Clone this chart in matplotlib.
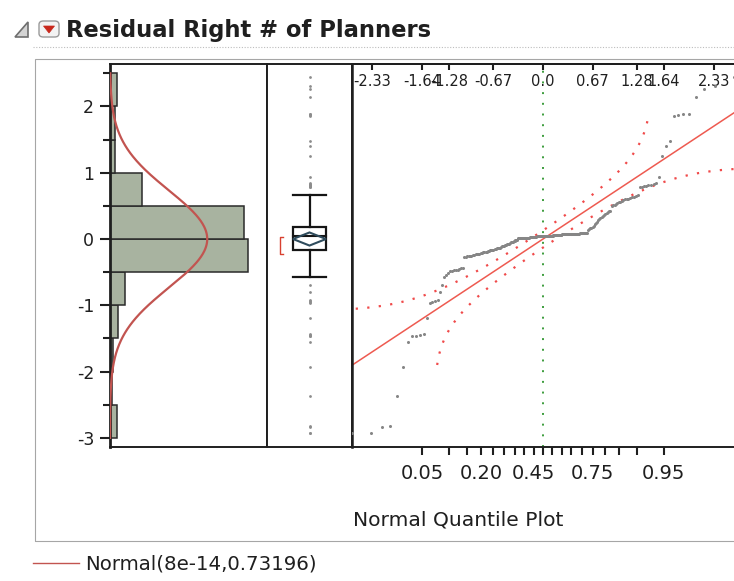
import math
import numpy as np
import matplotlib
matplotlib.use("Agg")
import matplotlib.pyplot as plt
from matplotlib.patches import Rectangle, Polygon, FancyBboxPatch
from matplotlib.lines import Line2D
import matplotlib.transforms as mtransforms

plt.rcParams["font.family"] = ["DejaVu Sans"]

# ---------------- data ----------------
title = "Residual Right # of Planners"
fit_mean = 8e-14
fit_sd = 0.73196
legend_label = "Normal(8e-14,0.73196)"

bin_edges = [-3.0, -2.5, -2.0, -1.5, -1.0, -0.5, 0.0, 0.5, 1.0, 1.5, 2.0, 2.5]
bin_counts = [4, 1, 2, 5, 9, 81, 79, 19, 3, 3, 4]

# sorted residuals (quantile plot + outlier box plot)
residuals = [
    -2.92, -2.92, -2.84, -2.82, -2.37, -1.93,
    -1.55, -1.47, -1.46, -1.45, -1.43, -1.19,
    -0.96, -0.95, -0.94, -0.92, -0.80, -0.69, -0.57, -0.55, -0.52,
    -0.49, -0.48, -0.47, -0.47, -0.46, -0.45, -0.44, -0.43,
    -0.27, -0.27, -0.26, -0.26, -0.25, -0.25, -0.24, -0.24, -0.23, -0.23,
    -0.22, -0.22, -0.21, -0.21, -0.20, -0.20, -0.19, -0.19, -0.18, -0.18,
    -0.17, -0.17, -0.16, -0.16, -0.15, -0.15, -0.14, -0.14, -0.13, -0.13,
    -0.12, -0.11, -0.11, -0.10, -0.09, -0.09, -0.08, -0.07, -0.07, -0.06,
    -0.05, -0.05, -0.04, -0.03, -0.03, -0.02, -0.01, -0.01,
    0.01, 0.01, 0.01, 0.01, 0.01, 0.01,
    0.02, 0.02, 0.02, 0.02, 0.02, 0.02, 0.02,
    0.03, 0.03, 0.03, 0.03, 0.03, 0.03, 0.03, 0.03,
    0.04, 0.04, 0.04, 0.04, 0.04, 0.04, 0.04, 0.04, 0.04,
    0.05, 0.05, 0.05, 0.05, 0.05, 0.05, 0.05, 0.05, 0.05, 0.05,
    0.06, 0.06, 0.06, 0.06, 0.06, 0.06, 0.06, 0.06, 0.06, 0.06,
    0.07, 0.07, 0.07, 0.07, 0.07, 0.07, 0.07, 0.07, 0.07, 0.07,
    0.08, 0.08, 0.08, 0.08, 0.08, 0.08, 0.08, 0.08, 0.08,
    0.09, 0.09, 0.09, 0.09, 0.09, 0.09, 0.09, 0.09,
    0.13, 0.15, 0.16, 0.17, 0.18, 0.20, 0.22, 0.24, 0.26, 0.28,
    0.30, 0.32, 0.33, 0.35, 0.36, 0.38, 0.39, 0.41, 0.42, 0.43,
    0.50, 0.52, 0.52, 0.53, 0.55, 0.56, 0.56, 0.58, 0.59, 0.60,
    0.61, 0.61, 0.62, 0.63, 0.64, 0.65, 0.66,
    0.78, 0.79, 0.80, 0.80, 0.81, 0.82, 0.83, 0.84,
    0.94, 1.25, 1.40, 1.48, 1.86, 1.87, 1.88, 1.89, 2.14, 2.26, 2.31, 2.44,
]

y_ticks = [-3, -2, -1, 0, 1, 2]
y_tick_labels = ["-3", "-2", "-1", "0", "1", "2"]
y_minor_ticks = [-2.5, -1.5, -0.5, 0.5, 1.5, 2.5]

quantile_probs = [0.01, 0.05, 0.10, 0.25, 0.50, 0.75, 0.90, 0.95, 0.99]
quantile_labels = ["-2.33", "-1.64", "-1.28", "-0.67", "0.0", "0.67", "1.28", "1.64", "2.33"]

prob_ticks = [0.05, 0.10, 0.15, 0.20, 0.25, 0.30, 0.35, 0.40, 0.45, 0.50,
              0.55, 0.60, 0.65, 0.70, 0.75, 0.80, 0.85, 0.90, 0.95]
prob_tick_labels = ["0.05", "", "", "0.20", "", "", "", "", "0.45", "",
                    "", "", "", "", "0.75", "", "", "", "0.95"]

shortest_half = (-0.23, 0.03)
band_d = 0.07  # half-width of the confidence band in probability units

# ---------------- helpers ----------------
_erf = np.vectorize(math.erf)


def norm_cdf(x):
    x = np.asarray(x, dtype=float)
    return 0.5 * (1.0 + _erf(x / math.sqrt(2.0)))


def norm_ppf(p):
    p = np.asarray(p, dtype=float)
    lo = np.full(p.shape, -12.0)
    hi = np.full(p.shape, 12.0)
    for _ in range(70):
        mid = 0.5 * (lo + hi)
        below = norm_cdf(mid) < p
        lo = np.where(below, mid, lo)
        hi = np.where(below, hi, mid)
    return 0.5 * (lo + hi)


def norm_pdf(x, mu, sd):
    return np.exp(-0.5 * ((x - mu) / sd) ** 2) / (sd * math.sqrt(2 * math.pi))


W, H = 734, 581


def fx(px):
    return px / W


def fy(py):
    return 1.0 - py / H


ink = "#1f1f1f"
curve_red = "#c25450"
line_red = "#ee5a50"
ylim = (-3.13, 2.64)
top_px, bot_px = 64, 446.5

fig = plt.figure(figsize=(W / 100, H / 100), dpi=100)
fig.patch.set_facecolor("white")

# outer report frame and header
fig.add_artist(Rectangle((fx(35), fy(541)), (W + 10 - 35) / W, (541 - 59) / H,
                         transform=fig.transFigure, fill=False, ec="#a6a6a6", lw=0.8))
fig.add_artist(Line2D([fx(33), 1.0], [fy(47), fy(47)], transform=fig.transFigure,
                      color="#bdbdbd", lw=0.8, ls=(0, (1, 1.5))))
fig.add_artist(Polygon([(fx(15), fy(37)), (fx(28), fy(37)), (fx(28), fy(22))],
                       closed=True, transform=fig.transFigure,
                       fc="#d4d4d4", ec="#6f6f6f", lw=1.2))
fig.add_artist(FancyBboxPatch((fx(39), fy(37)), (59 - 39) / W, (37 - 21) / H,
                              boxstyle="round,pad=0,rounding_size=0.006",
                              transform=fig.transFigure, fc="#f3f3f3", ec="#9a9a9a", lw=1.0))
fig.add_artist(Polygon([(fx(43.5), fy(26)), (fx(54.5), fy(26)), (fx(49), fy(33))],
                       closed=True, transform=fig.transFigure, fc="#c8281c", ec="#c8281c", lw=0.5))
fig.text(fx(66), fy(37), title, fontsize=16.3, fontweight="bold", color=ink,
         ha="left", va="baseline")

# ---------------- histogram ----------------
ax_h = fig.add_axes([fx(110), fy(bot_px), (267 - 110) / W, (bot_px - top_px) / H])
edges = np.array(bin_edges)
counts = np.array(bin_counts)
widths = np.diff(edges)
ax_h.barh(edges[:-1], counts, height=widths, left=0, align="edge",
          color="#a8b3a0", edgecolor="#2a2a2a", linewidth=1.1, zorder=2)
n_total = counts.sum()
yy = np.linspace(edges[0], edges[-1], 500)
ax_h.plot(n_total * widths[0] * norm_pdf(yy, fit_mean, fit_sd), yy,
          color=curve_red, lw=1.6, zorder=3)
ax_h.set_xlim(0, 92.4)
ax_h.set_ylim(*ylim)
ax_h.set_xticks([])
ax_h.set_yticks(y_ticks)
ax_h.set_yticklabels(y_tick_labels)
ax_h.set_yticks(y_minor_ticks, minor=True)
ax_h.tick_params(axis="y", which="major", direction="out", length=7.5, width=1.5,
                 pad=4, labelsize=12.5, colors=ink)
ax_h.tick_params(axis="y", which="minor", direction="out", length=5, width=1.5, colors=ink)
for name, sp in ax_h.spines.items():
    sp.set_color(ink)
    sp.set_linewidth(2.0 if name == "left" else 1.4)

# ---------------- outlier box plot ----------------
ax_b = fig.add_axes([fx(267), fy(bot_px), (352 - 267) / W, (bot_px - top_px) / H])
r = np.sort(np.array(residuals))
n = len(r)
q1, med, q3 = np.percentile(r, [25, 50, 75], method="weibull")
iqr = q3 - q1
w_lo = r[r >= q1 - 1.5 * iqr].min()
w_hi = r[r <= q3 + 1.5 * iqr].max()
outliers = r[(r < w_lo) | (r > w_hi)]
bx0, bx1, bxc = 0.306, 0.694, 0.5
ax_b.add_patch(Rectangle((bx0, q1), bx1 - bx0, q3 - q1, fill=False, ec="#151515", lw=1.6, zorder=3))
ax_b.plot([bx0, bx1], [med, med], color="#151515", lw=1.5, zorder=3)
ax_b.plot([bxc, bxc], [q3, w_hi], color="#151515", lw=1.6)
ax_b.plot([bxc, bxc], [w_lo, q1], color="#151515", lw=1.6)
ax_b.plot([bx0, bx1], [w_hi, w_hi], color="#151515", lw=1.6)
ax_b.plot([bx0, bx1], [w_lo, w_lo], color="#151515", lw=1.6)
half = 1.96 * fit_sd / math.sqrt(n)
ax_b.add_patch(Polygon([(bx0, fit_mean), (bxc, fit_mean + half), (bx1, fit_mean),
                        (bxc, fit_mean - half)], closed=True, fill=False,
                       ec="#2e4b5c", lw=1.5, zorder=4))
sh_lo, sh_hi = shortest_half
ax_b.plot([0.19, 0.153, 0.153, 0.19], [sh_hi, sh_hi, sh_lo, sh_lo],
          color="#d8402f", lw=1.0)
ax_b.plot(np.full(len(outliers), bxc), outliers, "o", ms=2.0, color="#8c8c8c",
          mec="none")
ax_b.set_xlim(0, 1)
ax_b.set_ylim(*ylim)
ax_b.set_xticks([])
ax_b.set_yticks([])
for sp in ax_b.spines.values():
    sp.set_color(ink)
    sp.set_linewidth(1.4)

# ---------------- normal quantile plot ----------------
ax_q = fig.add_axes([fx(352), fy(bot_px), (W - 352) / W, (bot_px - top_px) / H])
ranks = np.arange(1, n + 1)
z = norm_ppf(ranks / (n + 1.0))
zmax = float(z[-1]) + 0.005
ax_q.set_xlim(-zmax, zmax)
ax_q.set_ylim(*ylim)

ax_q.axvline(0, color="#3c9c3c", lw=1.4, ls=(0, (1, 4.5)), zorder=1)
ax_q.axline((0, fit_mean), slope=fit_sd, color=line_red, lw=1.1, zorder=2)

pp = np.linspace(1.0 / (n + 1), n / (n + 1.0), 800)
yb = fit_mean + fit_sd * norm_ppf(pp)
m_a = pp - band_d > 1e-5
m_b = pp + band_d < 1 - 1e-5
band_style = dict(color="#f04a4a", lw=1.6, ls=(0, (1, 4.2)), zorder=2)
ax_q.plot(norm_ppf(pp[m_a] - band_d), yb[m_a], **band_style)
ax_q.plot(norm_ppf(pp[m_b] + band_d), yb[m_b], **band_style)

ax_q.plot(z, r, "o", ms=2.2, color="#868686", mec="none", zorder=3)

ax_q.set_xticks(norm_ppf(prob_ticks))
ax_q.set_xticklabels(prob_tick_labels)
ax_q.tick_params(axis="x", which="major", direction="out", length=5.5, width=1.5,
                 pad=7, labelsize=14, colors=ink)
ax_q.set_yticks([])

top_pos = norm_ppf(quantile_probs)
sec = ax_q.secondary_xaxis("top")
sec.set_xticks(top_pos)
sec.set_xticklabels([])
sec.tick_params(direction="in", length=4, width=1.5, colors=ink)
sec.spines["top"].set_linewidth(1.4)
sec.spines["top"].set_color(ink)
blend = mtransforms.blended_transform_factory(ax_q.transData, ax_q.transAxes)
for pos, lab in zip(top_pos, quantile_labels):
    ax_q.text(pos, 0.955, lab, transform=blend, ha="center", va="center",
              fontsize=10.5, color=ink, zorder=0)

ax_q.spines["right"].set_visible(False)
for name in ("left", "top", "bottom"):
    ax_q.spines[name].set_color(ink)
    ax_q.spines[name].set_linewidth(1.8 if name == "left" else 1.4)

fig.text(fx(353), fy(525), "Normal Quantile Plot", fontsize=14.6, color=ink,
         ha="left", va="baseline")

# legend entry below the frame
fig.add_artist(Line2D([fx(33), fx(79)], [fy(563), fy(563)], transform=fig.transFigure,
                      color=curve_red, lw=1.0))
fig.text(fx(85), fy(570), legend_label, fontsize=14.2, color=ink,
         ha="left", va="baseline")

fig.savefig("out.png", dpi=100)
